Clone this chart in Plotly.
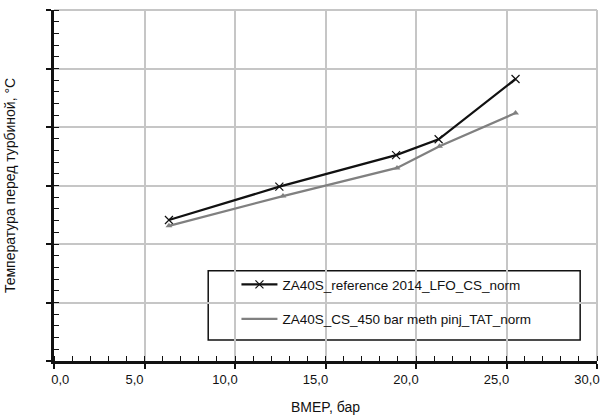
import plotly.graph_objects as go

# Reference engine (black, x markers)
ref_bmep = [6.35, 12.45, 18.9, 21.25, 25.5]
ref_temp = [2.41, 2.98, 3.52, 3.79, 4.82]

# Methanol, 450 bar pilot injection (grey)
meth_bmep = [6.35, 12.65, 18.95, 21.3, 25.5]
meth_temp = [2.31, 2.82, 3.30, 3.67, 4.24]

x_ticks = [0, 5, 10, 15, 20, 25, 30]
x_tick_labels = ["0,0", "5,0", "10,0", "15,0", "20,0", "25,0", "30,0"]
y_ticks = [0, 1, 2, 3, 4, 5, 6]

FONT = "Liberation Sans, Arial, sans-serif"
GRID = "#c6c6c6"

# first label sits just right of the y axis line
x_tick_text = ["\u00a0" * 9 + x_tick_labels[0]] + x_tick_labels[1:]

fig = go.Figure()

fig.add_trace(go.Scatter(
    x=ref_bmep, y=ref_temp, mode="lines+markers",
    name="ZA40S_reference 2014_LFO_CS_norm",
    line=dict(color="#111111", width=2.3),
    marker=dict(symbol="x-thin-open", size=8, line=dict(color="#222222", width=1.2)),
    legendgroup="a",
))
fig.add_trace(go.Scatter(
    x=meth_bmep, y=meth_temp, mode="lines",
    name="ZA40S_CS_450 bar meth pinj_TAT_norm",
    line=dict(color="#808080", width=2.3),
    legendgroup="b",
))
fig.add_trace(go.Scatter(
    x=meth_bmep, y=meth_temp, mode="markers", showlegend=False,
    marker=dict(symbol="triangle-up", size=6, color="#808080"),
))

# Grey frame along the top and right edges of the plot area
fig.add_shape(type="line", xref="paper", yref="paper", x0=0, x1=1, y0=1, y1=1,
              line=dict(color=GRID, width=2), layer="below")
fig.add_shape(type="line", xref="paper", yref="paper", x0=1, x1=1, y0=0, y1=1,
              line=dict(color=GRID, width=2), layer="below")

# Legend frame
fig.add_shape(type="rect", xref="paper", yref="paper",
              x0=0.284, x1=0.969, y0=0.06, y1=0.257,
              line=dict(color="#111111", width=1.5), fillcolor="white", layer="below")

fig.update_layout(
    width=601, height=417,
    margin=dict(l=54, r=4, t=10, b=56, autoexpand=False),
    paper_bgcolor="white", plot_bgcolor="white",
    font=dict(family=FONT, size=13, color="#111111"),
    showlegend=True,
    legend=dict(x=0.336, y=0.262, xanchor="left", yanchor="top",
                bgcolor="rgba(0,0,0,0)", borderwidth=0,
                font=dict(size=13.5), itemwidth=36, tracegroupgap=14),
    xaxis=dict(
        range=[0, 30], tickvals=x_ticks, ticktext=x_tick_text,
        showgrid=True, gridcolor=GRID, gridwidth=2,
        showline=True, linecolor="#111111", linewidth=2.5,
        ticks="outside", ticklen=5, tickcolor="#111111", tickwidth=1.5,
        minor=dict(dtick=1, ticks="inside", ticklen=5, tickcolor="#111111", tickwidth=1.2, showgrid=False),
        zeroline=False, ticklabelshift=-10, ticklabeloverflow="allow", automargin=False,
        title=dict(text="BMEP, бар", font=dict(size=14), standoff=16),
        tickfont=dict(size=13),
    ),
    yaxis=dict(
        range=[0, 6], tickvals=y_ticks, showticklabels=False,
        showgrid=True, gridcolor=GRID, gridwidth=2,
        showline=True, linecolor="#111111", linewidth=2.5,
        ticks="outside", ticklen=5, tickcolor="#111111", tickwidth=1.5,
        minor=dict(dtick=0.2, ticks="inside", ticklen=5, tickcolor="#111111", tickwidth=1.2, showgrid=False),
        zeroline=False, automargin=False,
        title=dict(text="Температура перед турбиной, °С", font=dict(size=14), standoff=28),
    ),
)

fig.write_html("out.html")
